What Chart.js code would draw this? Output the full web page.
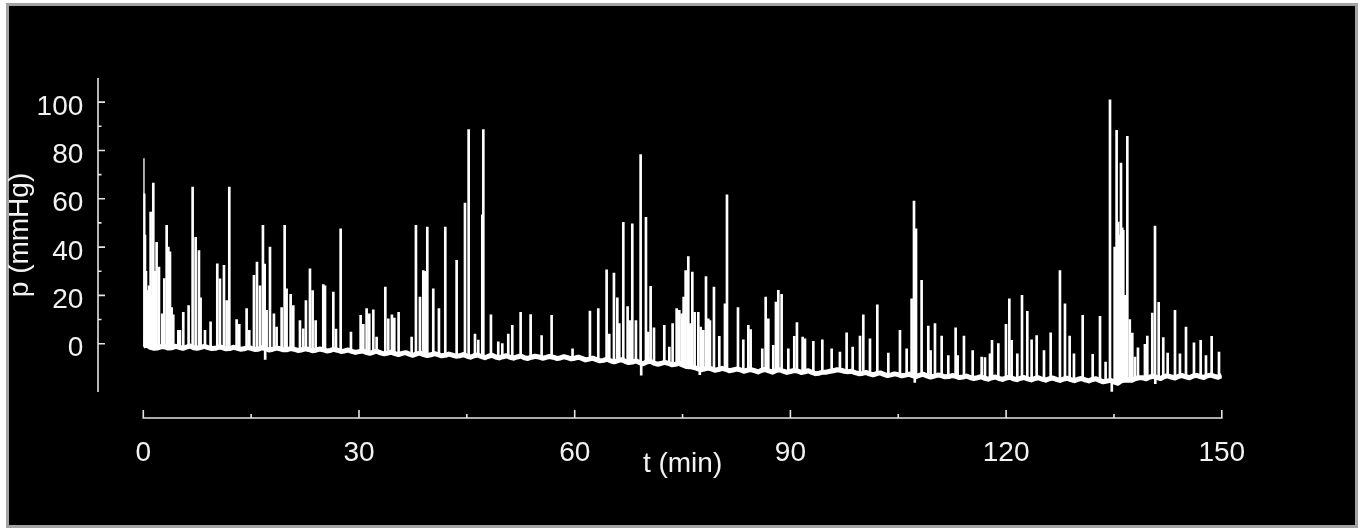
<!DOCTYPE html>
<html><head><meta charset="utf-8">
<script src="https://cdn.jsdelivr.net/npm/chart.js@4.4.1/dist/chart.umd.min.js"></script>
<style>html,body{margin:0;padding:0;background:#fff;overflow:hidden}#wrap{position:absolute;left:0;top:0;width:1361px;height:531px}</style>
</head><body><div id="wrap"><canvas id="c" width="1361" height="531"></canvas></div>
<script>
// ---- tick labels ----
const xTickValues = [0, 30, 60, 90, 120, 150];
const xMinorTicks = [15, 45, 75, 105, 135];
const yTickValues = [0, 20, 40, 60, 80, 100];
const yMinorTicks = [10, 30, 50, 70, 90];
const xTitle = 't (min)';
const yTitle = 'p (mmHg)';

// ---- noisy baseline of the pressure trace, read every half minute (t in min, p in mmHg) ----
const baseT = [0,0.5,1,1.5,2,2.5,3,3.5,4,4.5,5,5.5,6,6.5,7,7.5,8,8.5,9,9.5,
10,10.5,11,11.5,12,12.5,13,13.5,14,14.5,15,15.5,16,16.5,17,17.5,18,18.5,19,19.5,
20,20.5,21,21.5,22,22.5,23,23.5,24,24.5,25,25.5,26,26.5,27,27.5,28,28.5,29,29.5,
30,30.5,31,31.5,32,32.5,33,33.5,34,34.5,35,35.5,36,36.5,37,37.5,38,38.5,39,39.5,
40,40.5,41,41.5,42,42.5,43,43.5,44,44.5,45,45.5,46,46.5,47,47.5,48,48.5,49,49.5,
50,50.5,51,51.5,52,52.5,53,53.5,54,54.5,55,55.5,56,56.5,57,57.5,58,58.5,59,59.5,
60,60.5,61,61.5,62,62.5,63,63.5,64,64.5,65,65.5,66,66.5,67,67.5,68,68.5,69,69.5,
70,70.5,71,71.5,72,72.5,73,73.5,74,74.5,75,75.5,76,76.5,77,77.5,78,78.5,79,79.5,
80,80.5,81,81.5,82,82.5,83,83.5,84,84.5,85,85.5,86,86.5,87,87.5,88,88.5,89,89.5,
90,90.5,91,91.5,92,92.5,93,93.5,94,94.5,95,95.5,96,96.5,97,97.5,98,98.5,99,99.5,
100,100.5,101,101.5,102,102.5,103,103.5,104,104.5,105,105.5,106,106.5,107,107.5,108,108.5,109,109.5,
110,110.5,111,111.5,112,112.5,113,113.5,114,114.5,115,115.5,116,116.5,117,117.5,118,118.5,119,119.5,
120,120.5,121,121.5,122,122.5,123,123.5,124,124.5,125,125.5,126,126.5,127,127.5,128,128.5,129,129.5,
130,130.5,131,131.5,132,132.5,133,133.5,134,134.5,135,135.5,136,136.5,137,137.5,138,138.5,139,139.5,
140,140.5,141,141.5,142,142.5,143,143.5,144,144.5,145,145.5,146,146.5,147,147.5,148,148.5,149,149.5,
150];
const baseP = [-1.0,-0.6,-1.5,-1.9,-1.8,-1.2,-1.3,-1.8,-1.7,-1.1,-1.5,-1.9,-1.4,-1.0,-1.7,-1.9,-1.5,-1.1,-1.6,-2.0,
-1.9,-1.4,-1.6,-2.1,-2.0,-1.5,-1.8,-2.3,-2.1,-1.6,-1.9,-2.4,-2.3,-1.7,-2.0,-2.6,-2.3,-1.8,-2.1,-2.5,
-2.5,-2.0,-2.3,-2.8,-2.6,-2.1,-2.4,-2.9,-2.7,-2.2,-2.5,-3.0,-2.8,-2.3,-2.7,-3.2,-3.0,-2.6,-3.2,-3.6,
-3.3,-3.0,-3.6,-4.0,-3.5,-3.1,-3.8,-4.2,-3.9,-3.5,-4.1,-4.5,-4.0,-3.7,-4.3,-4.8,-4.2,-3.9,-4.5,-4.9,
-4.6,-4.1,-4.5,-5.0,-4.8,-4.3,-4.7,-5.2,-5.0,-4.5,-5.1,-5.6,-5.0,-4.7,-5.3,-5.8,-5.2,-4.8,-5.5,-5.9,
-5.4,-5.0,-5.6,-6.0,-5.5,-5.1,-5.8,-6.1,-5.6,-5.2,-5.5,-6.0,-5.7,-5.3,-5.6,-6.1,-5.9,-5.4,-5.8,-6.3,
-6.0,-5.6,-6.1,-6.7,-6.4,-6.0,-6.6,-7.1,-6.9,-6.4,-7.1,-7.5,-7.0,-6.6,-7.3,-7.8,-7.6,-7.1,-7.8,-8.3,
-7.6,-7.2,-8.0,-8.5,-8.2,-7.7,-8.1,-8.7,-8.5,-8.1,-8.8,-9.4,-9.5,-9.8,-10.2,-10.8,-10.5,-10.1,-10.4,-11.0,
-10.7,-10.2,-10.6,-11.2,-10.9,-10.5,-10.8,-11.4,-11.0,-10.7,-11.2,-11.7,-11.0,-10.7,-11.3,-11.8,-11.1,-10.8,-11.4,-11.9,
-11.5,-11.1,-11.3,-11.9,-11.6,-11.2,-11.9,-12.4,-12.2,-11.8,-11.8,-11.4,-11.2,-10.8,-11.0,-11.4,-11.6,-11.4,-12.0,-12.4,
-12.3,-11.9,-12.5,-12.9,-12.4,-12.1,-12.7,-13.2,-12.9,-12.5,-12.8,-13.3,-13.0,-12.6,-13.2,-13.6,-13.0,-12.7,-13.3,-13.8,
-13.4,-13.0,-13.2,-13.7,-13.6,-13.2,-13.5,-14.0,-13.8,-13.4,-14.0,-14.4,-14.1,-13.7,-14.3,-14.7,-14.1,-13.8,-14.4,-14.8,
-14.2,-13.9,-14.5,-14.9,-14.3,-14.0,-14.6,-15.0,-14.4,-14.1,-14.7,-15.1,-14.5,-14.2,-14.8,-15.2,-14.6,-14.3,-14.9,-15.3,
-14.7,-14.4,-15.0,-15.4,-14.8,-14.5,-15.2,-15.8,-15.5,-15.2,-15.8,-16.4,-15.4,-15.1,-15.0,-15.1,-14.4,-14.1,-14.1,-14.5,
-13.8,-13.5,-14.0,-14.4,-13.6,-13.3,-13.8,-14.2,-13.5,-13.2,-13.7,-14.1,-13.4,-13.1,-13.6,-14.0,-13.3,-13.0,-13.5,-13.9,
-13.2];

// ---- pressure spikes: time, peak and foot (local baseline) ----
const spikeT = [0.00,0.12,0.23,0.37,0.56,0.80,1.02,1.20,1.39,1.62,1.85,2.18,2.64,2.92,3.25,3.48,3.71,3.94,4.17,4.87,5.10,5.56,6.30,6.86,7.28,7.74,7.97,8.58,9.36,10.29,10.66,11.22,11.59,11.96,12.98,13.35,14.37,14.74,15.39,15.81,16.23,16.64,16.88,16.95,17.15,17.62,18.17,18.54,19.24,19.66,19.93,20.49,20.86,21.79,22.25,22.62,23.18,23.55,23.97,25.03,25.27,26.43,26.80,27.45,28.88,30.23,30.60,31.06,31.43,31.99,32.45,33.66,34.07,34.58,34.91,35.51,37.32,37.92,38.48,38.94,39.17,39.50,40.33,41.12,42.00,43.58,44.74,45.25,46.13,46.59,47.15,47.29,48.35,49.37,49.93,50.76,51.32,52.48,53.87,55.40,56.79,59.70,62.12,63.28,64.44,64.81,65.46,65.93,66.20,66.76,67.36,67.69,68.01,68.52,69.17,69.25,69.91,70.24,70.56,71.03,72.46,73.16,73.62,74.18,74.55,74.87,75.15,75.43,75.80,76.03,76.36,76.68,77.19,77.40,77.52,77.89,78.26,78.58,78.81,79.37,80.11,80.90,81.18,82.71,83.45,84.15,84.47,86.09,86.56,86.93,87.62,87.99,88.32,88.78,89.71,90.54,90.91,91.70,92.03,93.19,94.44,95.74,96.89,97.82,98.66,99.68,100.14,101.07,102.09,103.62,105.24,106.17,106.86,107.19,107.30,107.47,108.25,109.18,109.50,110.11,111.04,111.96,112.98,113.26,114.14,115.35,116.60,117.06,117.76,118.04,118.92,119.98,120.45,120.77,121.56,122.21,122.95,123.55,124.25,125.27,126.20,127.49,128.19,128.84,129.44,130.65,132.04,133.06,133.84,134.45,134.70,135.10,135.37,135.60,135.80,135.98,136.15,136.30,136.55,136.86,137.20,137.55,137.92,138.34,139.31,139.64,140.33,140.71,140.75,141.22,141.86,142.47,143.49,144.18,145.02,146.13,147.06,147.80,148.59,149.61];
const spikePeak = [76.6,62,45,30,22,24,54.5,20,66.5,30,42,31.7,12.4,27,49,40,38,15,12,5.5,5.5,13,15.8,64.8,44,38.6,19,5.5,9,33.1,26.9,32.4,17.9,64.8,10,8,14.5,5.5,28.3,33.8,24,49,33,-6.5,13.8,40,12.4,6.9,15,49,22.7,20.4,15.8,9.6,6.2,17.9,31,22,9.6,24.5,24,21.4,6,47.6,4.8,11.7,8,14.5,12.4,14,2.7,23.4,10.3,12,10.6,13,2.7,49,19.3,30.3,30,48.3,22.7,14.5,48.3,34.5,58.2,88.6,4,1.5,53.4,88.6,12,0.8,0,4,7.6,13,12.1,3.4,11.7,-2.1,13.5,14.5,30.6,4,29.2,19,8.3,50.2,15.4,9.6,49.6,9.6,78.3,-13,52.3,4.8,23.7,6.6,7.6,-1.4,8.3,14.5,13.8,12.4,19.3,30.3,36.1,8.3,29.6,13,13,-12.8,6.9,5.5,27.8,10.3,9.6,23.4,3,16.5,61.6,14.9,1.6,7.6,5.8,-2.1,19.3,10.3,-0.7,17.2,22.1,20.4,-2.1,3,8.7,2.7,2,1,1.6,-2.1,-3.5,4.5,-1.4,3.2,12,2,16.1,-3.9,5.5,-2.1,18.6,59,-16,47.6,26.2,7.3,-2.8,8.3,3.2,-4.9,6.6,-4.9,3.2,-2.8,-5.5,-5.8,-4.2,1.4,0,8,18.6,1.4,-4.2,20,13.4,1.6,3.4,-2.8,4.5,30.3,16.5,3.2,-4.2,11.7,-4.4,11.3,-7.6,101,-19.8,40,88.3,50.3,45,74.8,48,46.9,20,85.8,10,4.4,-5.5,-1.7,-0.3,3.2,12.7,48.7,-16.5,17.1,2.5,-3.9,13.8,-4.2,6.9,0.4,1.4,-4.9,3,-3.5];
const spikeBase = [-1,-1,-1,-1,-1,-1,-1.5,-1.5,-1.5,-1.5,-1.5,-2,-2,-1.5,-1.5,-1.5,-1.5,-1.5,-1.8,-1.8,-1.5,-1.5,-1.3,-1.5,-1.8,-1.6,-1.5,-1.5,-1.6,-1.8,-1.7,-1.6,-1.8,-2,-1.8,-1.9,-2.1,-2,-2,-2.2,-2.3,-2.3,-2.2,-2.2,-2.1,-2.1,-2.2,-2.3,-2.2,-2.2,-2.4,-2.4,-2.3,-2.4,-2.5,-2.5,-2.5,-2.5,-2.6,-2.6,-2.6,-2.8,-2.8,-2.8,-3.1,-3.4,-3.5,-3.6,-3.5,-3.4,-3.6,-3.8,-3.9,-4,-4,-4,-4.3,-4.2,-4.3,-4.5,-4.5,-4.5,-4.5,-4.5,-4.8,-4.9,-5,-5.1,-5,-5.1,-5.3,-5.3,-5.3,-5.4,-5.5,-5.5,-5.6,-5.5,-5.7,-5.6,-5.6,-5.8,-6.4,-6.6,-6.9,-6.9,-7,-7,-7,-7.1,-7.3,-7.4,-7.6,-7.6,-7.8,-7.8,-7.7,-7.6,-7.8,-8,-8.2,-8.1,-8.3,-8.5,-8.6,-8.7,-8.8,-9,-9.3,-9.5,-9.8,-10,-10.2,-10.2,-10.3,-10.4,-10.5,-10.5,-10.5,-10.4,-10.7,-10.6,-10.6,-10.8,-10.9,-11,-11,-11,-11.1,-11.2,-11.2,-11.1,-11.2,-11.3,-11.4,-11.4,-11.3,-11.5,-11.6,-11.9,-12.1,-11.5,-11.1,-11.4,-11.8,-12.1,-12.3,-12.5,-12.4,-12.8,-12.9,-13,-13.1,-13.2,-13.2,-13.2,-13.1,-13.3,-13.3,-13.4,-13.2,-13.5,-13.5,-13.6,-13.8,-14,-14.2,-14.3,-14.2,-14.1,-14.3,-14.3,-14.3,-14.4,-14.4,-14.3,-14.5,-14.5,-14.5,-14.6,-14.6,-14.7,-14.6,-14.8,-14.8,-14.8,-14.9,-15.1,-15.2,-15.5,-15.6,-15.7,-15.8,-15.8,-15.7,-15.6,-15.5,-15.4,-15.3,-15.2,-15,-15,-14.8,-14.4,-14.1,-14,-13.9,-13.8,-13.8,-14,-13.8,-13.6,-13.8,-13.6,-13.7,-13.4,-13.6,-13.4,-13.3,-13.4];

const FONT = 'Liberation Sans, Arial, Helvetica, sans-serif';
const TEXT = '#f2f2f2';
const AXIS = '#e4e4e4';

const framePlugin = {
  id: 'frame',
  beforeDraw(chart) {
    const ctx = chart.ctx;
    ctx.save();
    ctx.fillStyle = '#ffffff'; ctx.fillRect(0, 0, chart.width, chart.height);
    ctx.fillStyle = '#a3a3a3'; ctx.fillRect(6, 3, chart.width - 9, chart.height - 6);
    ctx.fillStyle = '#000000'; ctx.fillRect(9, 6, chart.width - 15, chart.height - 12);
    ctx.restore();
  }
};

const axesPlugin = {
  id: 'offsetAxes',
  afterDatasetsDraw(chart) {
    const ctx = chart.ctx, xs = chart.scales.x, ys = chart.scales.y, ca = chart.chartArea;
    const yAxisX = ca.left - 45.3;
    const xAxisY = ca.bottom + 26;
    ctx.save();
    ctx.strokeStyle = AXIS; ctx.lineWidth = 1.6; ctx.lineCap = 'butt';
    ctx.beginPath();
    ctx.moveTo(yAxisX, ys.getPixelForValue(ys.max));
    ctx.lineTo(yAxisX, ys.getPixelForValue(ys.min));
    ctx.moveTo(xs.getPixelForValue(xs.min) - 0.8, xAxisY);
    ctx.lineTo(xs.getPixelForValue(xs.max) + 0.8, xAxisY);
    yTickValues.forEach(v => { const p = ys.getPixelForValue(v); ctx.moveTo(yAxisX, p); ctx.lineTo(yAxisX + 7, p); });
    yMinorTicks.forEach(v => { const p = ys.getPixelForValue(v); ctx.moveTo(yAxisX, p); ctx.lineTo(yAxisX + 3.5, p); });
    xTickValues.forEach(v => { const p = xs.getPixelForValue(v); ctx.moveTo(p, xAxisY); ctx.lineTo(p, xAxisY - 8); });
    xMinorTicks.forEach(v => { const p = xs.getPixelForValue(v); ctx.moveTo(p, xAxisY); ctx.lineTo(p, xAxisY - 4); });
    ctx.stroke();
    ctx.restore();
  }
};

const baseline = baseT.map((t, i) => ({ x: t, y: baseP[i] }));
const spikes = spikeT.map((t, i) => ({ x: t, y: [spikeBase[i], spikePeak[i]] }));

new Chart(document.getElementById('c'), {
  type: 'line',
  data: {
    datasets: [
      { type: 'line', data: baseline, borderColor: '#ffffff', borderWidth: 5, pointRadius: 0, tension: 0, borderJoinStyle: 'round', fill: false, order: 2 },
      { type: 'bar', data: spikes, backgroundColor: '#ffffff', borderWidth: 0, barThickness: 2, grouped: false, borderSkipped: false, order: 1 }
    ]
  },
  options: {
    responsive: false, animation: false, devicePixelRatio: 1,
    layout: { padding: { top: 78, right: 139.2, left: 0, bottom: 0 } },
    plugins: { legend: { display: false }, tooltip: { enabled: false } },
    scales: {
      x: {
        type: 'linear', min: 0, max: 150, offset: false,
        grid: { display: false, drawTicks: false }, border: { display: false },
        afterBuildTicks: s => { s.ticks = xTickValues.map(v => ({ value: v })); },
        afterFit: s => { s.height = 139; },
        ticks: { color: TEXT, font: { family: FONT, size: 28 }, padding: 44, maxRotation: 0, autoSkip: false },
        title: { display: true, text: xTitle, color: TEXT, font: { family: FONT, size: 28 }, padding: { top: 0, bottom: 50 } }
      },
      y: {
        type: 'linear', min: -20, max: 110,
        grid: { display: false, drawTicks: false }, border: { display: false },
        afterBuildTicks: s => { s.ticks = yTickValues.map(v => ({ value: v })); },
        afterFit: s => { s.width = 143.3; },
        ticks: { color: TEXT, font: { family: FONT, size: 28 }, padding: 60, labelOffset: 5, autoSkip: false },
        title: { display: true, text: yTitle, color: TEXT, font: { family: FONT, size: 28 }, padding: { top: 3, bottom: 0 } }
      }
    }
  },
  plugins: [framePlugin, axesPlugin]
});
</script></body></html>
